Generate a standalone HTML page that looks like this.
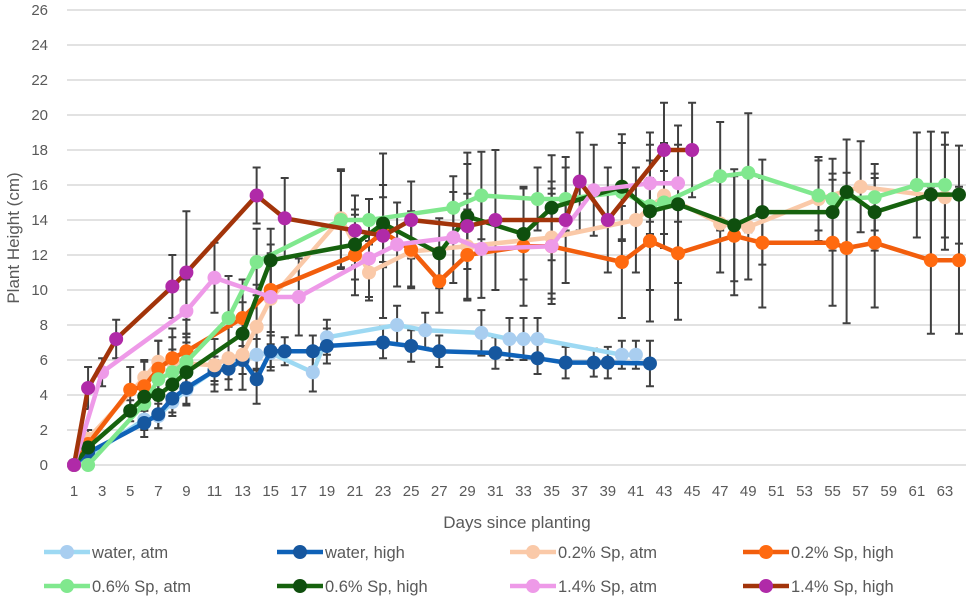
<!DOCTYPE html>
<html><head><meta charset="utf-8">
<style>
html,body{margin:0;padding:0;background:#fff;}
svg{display:block;font-family:"Liberation Sans",sans-serif;}
</style></head>
<body>
<svg id="chart" width="969" height="599" viewBox="0 0 969 599" xmlns="http://www.w3.org/2000/svg">
<g id="grid"></g>
<g id="yticks"></g>
<g id="xticks"></g>
<g id="errs"></g>
<g id="series"></g>
<text x="0" y="0" transform="translate(19,238) rotate(-90)" text-anchor="middle" font-size="17" fill="#595959">Plant Height (cm)</text>
<text x="517" y="528" text-anchor="middle" font-size="17" fill="#595959">Days since planting</text>
<g id="legend"></g>
</svg>
<script>
const yTicks=[0,2,4,6,8,10,12,14,16,18,20,22,24,26];
const xTickLabels=[1,3,5,7,9,11,13,15,17,19,21,23,25,27,29,31,33,35,37,39,41,43,45,47,49,51,53,55,57,59,61,63];
const seriesNames=["water, atm","water, high","0.2% Sp, atm","0.2% Sp, high","0.6% Sp, atm","0.6% Sp, high","1.4% Sp, atm","1.4% Sp, high"];
const waterAtmDays=[1,2,6,7,8,9,11,13,14,15,18,19,24,26,30,32,33,34,40,41];
const waterAtmVals=[0,0.5,2.6,2.8,3.6,4.3,5.4,6.0,6.3,6.4,5.3,7.3,8.0,7.7,7.55,7.2,7.2,7.2,6.3,6.3];
const waterAtmErr=[0,0.3,0.6,0.7,0.8,0.9,0.8,0.8,0.9,1.0,1.1,1.0,1.1,1.0,1.3,1.2,1.2,1.2,0.8,0.8];
const waterHighDays=[1,2,6,7,8,9,11,12,13,14,15,16,18,19,23,25,27,31,34,36,38,39,42];
const waterHighVals=[0,0.7,2.4,2.9,3.8,4.4,5.4,5.5,6.0,4.9,6.5,6.5,6.5,6.8,7.0,6.8,6.5,6.4,6.1,5.85,5.85,5.85,5.8];
const waterHighErr=[0,0.3,0.8,0.8,0.8,0.9,0.6,0.6,0.8,1.4,0.9,0.8,0.9,1.0,0.9,0.9,0.9,0.9,0.9,0.9,0.8,0.9,1.3];
const sp02AtmDays=[1,2,6,7,8,9,11,12,13,14,15,20,22,25,29,35,41,43,47,49,54,57,63];
const sp02AtmVals=[0,1.5,5.0,5.9,5.9,5.8,5.7,6.1,6.3,7.9,9.5,14.1,11.0,12.2,12.5,13.0,14.0,15.4,13.8,13.6,15.2,15.9,15.3];
const sp02AtmErr=[0,0.5,1.0,1.2,1.4,1.5,1.5,1.8,2.0,2.4,2.6,2.8,1.6,2.0,3.0,3.2,3.0,3.0,2.8,3.0,2.4,2.6,3.0];
const sp02HighDays=[1,2,5,6,7,8,9,13,15,21,23,25,27,29,33,35,40,42,44,48,50,55,56,58,62,64];
const sp02HighVals=[0,1.2,4.3,4.5,5.5,6.1,6.5,8.4,10.0,12.0,13.3,12.3,10.5,12.0,12.5,12.5,11.6,12.8,12.1,13.1,12.7,12.7,12.4,12.7,11.7,11.7];
const sp02HighErr=[0,0.5,1.3,1.4,1.6,1.7,1.8,2.2,2.6,2.3,2.0,2.2,1.8,2.6,3.4,3.3,3.2,4.6,3.8,3.4,3.7,3.6,4.3,3.7,4.2,4.2];
const sp06AtmDays=[2,6,7,8,9,12,14,20,22,28,30,34,36,40,42,43,47,49,54,55,58,61,63];
const sp06AtmVals=[0,3.5,4.9,5.3,5.9,8.4,11.6,14.0,14.0,14.7,15.4,15.2,15.2,15.6,14.8,15.0,16.5,16.7,15.4,15.2,15.3,16.0,16.0];
const sp06AtmErr=[0,0.8,1.1,1.3,1.6,2.4,1.9,2.8,1.2,1.8,2.5,1.8,1.8,2.8,1.6,1.8,3.1,3.4,2.0,2.3,1.9,3.0,3.0];
const sp06HighDays=[1,2,5,6,7,8,9,13,15,21,23,27,29,33,35,40,42,44,48,50,55,56,58,62,64];
const sp06HighVals=[0,1.0,3.1,3.9,4.0,4.6,5.3,7.5,11.7,12.6,13.8,12.1,14.2,13.2,14.7,15.9,14.5,14.9,13.7,14.45,14.45,15.6,14.45,15.45,15.45];
const sp06HighErr=[0,0.4,0.6,0.8,0.9,1.1,1.2,1.8,1.8,2.0,2.2,2.0,3.0,2.6,3.0,3.0,4.5,4.5,3.2,3.0,2.2,3.0,2.2,3.6,2.8];
const sp14AtmDays=[1,3,9,11,15,17,22,24,28,30,35,38,42,44];
const sp14AtmVals=[0,5.3,8.8,10.7,9.6,9.6,11.8,12.6,13.0,12.35,12.5,15.7,16.1,16.1];
const sp14AtmErr=[0,0.8,1.8,2.0,2.0,2.2,2.2,2.4,2.6,2.8,3.0,2.6,2.2,2.2];
const sp14HighDays=[1,2,4,8,9,14,16,21,23,25,29,31,36,37,39,43,45];
const sp14HighVals=[0,4.4,7.2,10.2,11.0,15.4,14.1,13.4,13.1,14.0,13.65,14.0,14.0,16.2,14.0,18.0,18.0];
const sp14HighErr=[0,1.2,1.1,1.8,3.5,1.6,2.3,2.0,4.7,2.2,4.2,4.0,3.6,2.8,3.0,2.7,2.7];
const seriesDays=[waterAtmDays,waterHighDays,sp02AtmDays,sp02HighDays,sp06AtmDays,sp06HighDays,sp14AtmDays,sp14HighDays];
const seriesVals=[waterAtmVals,waterHighVals,sp02AtmVals,sp02HighVals,sp06AtmVals,sp06HighVals,sp14AtmVals,sp14HighVals];
const seriesErr=[waterAtmErr,waterHighErr,sp02AtmErr,sp02HighErr,sp06AtmErr,sp06HighErr,sp14AtmErr,sp14HighErr];

const lineColors=["#9DD9F3","#0F62B8","#FAC9A8","#F25E0D","#80E88E","#16620E","#EE9AE8","#A2340A"];
const markerColors=["#A9CEF0","#16579F","#FAC9A8","#FF6A10","#80E88E","#0F4F0E","#EE9AE8","#B02AA8"];
const NS="http://www.w3.org/2000/svg";
const X0=67,X1=966,NCAT=64,Y0=465,YTOP=10,YMAX=26;
const cw=(X1-X0)/NCAT;
function xs(d){return X0+(d-0.5)*cw;}
function ys(v){return Y0-(v/YMAX)*(Y0-YTOP);}
function mk(tag,attrs,parent){const e=document.createElementNS(NS,tag);for(const k in attrs)e.setAttribute(k,attrs[k]);parent.appendChild(e);return e;}
const grid=document.getElementById('grid'),yt=document.getElementById('yticks'),xt=document.getElementById('xticks');
yTicks.forEach(v=>{
 const l=mk('line',{x1:X0,x2:X1,y1:ys(v),y2:ys(v),stroke:'#d9d9d9','stroke-width':1.5},grid);
 
 
 const t=mk('text',{x:48,y:ys(v)+5,'text-anchor':'end','font-size':15,fill:'#595959'},yt);
 
 
 t.textContent=v;
});
xTickLabels.forEach(d=>{
 const t=mk('text',{x:xs(d),y:496,'text-anchor':'middle','font-size':15,fill:'#595959'},xt);
 
 
 t.textContent=d;
});
const eg=document.getElementById('errs'),sg=document.getElementById('series');
seriesDays.forEach((days,i)=>{
 const vals=seriesVals[i],err=seriesErr[i];
 days.forEach((d,j)=>{
  if(!err[j])return;
  const x=xs(d),a=ys(vals[j]+err[j]),b=ys(Math.max(0,vals[j]-err[j]));
  const g=mk('g',{stroke:'#404040','stroke-width':2},eg);
  
  
  mk('line',{x1:x,x2:x,y1:a,y2:b},g);
  mk('line',{x1:x-4,x2:x+4,y1:a,y2:a},g);
  mk('line',{x1:x-4,x2:x+4,y1:b,y2:b},g);
 });
});
seriesDays.forEach((days,i)=>{
 const vals=seriesVals[i];
 const g=mk('g',{},sg);
 
 
 const pts=days.map((d,j)=>xs(d).toFixed(1)+','+ys(vals[j]).toFixed(1)).join(' ');
 const pl=mk('polyline',{points:pts,fill:'none',stroke:lineColors[i],'stroke-width':4.5,'stroke-linejoin':'round'},g);
 
 
 days.forEach((d,j)=>{
  const c=mk('circle',{cx:xs(d),cy:ys(vals[j]),r:7,fill:markerColors[i]},g);
  
  
 });
});
const lg=document.getElementById('legend');
const colX=[44,277,510,743],rowY=[552,586];
seriesNames.forEach((n,i)=>{
 const x=colX[i%4],y=rowY[Math.floor(i/4)];
 const g=mk('g',{},lg);
 
 
 mk('line',{x1:x,x2:x+46,y1:y,y2:y,stroke:lineColors[i],'stroke-width':4.5},g);
 mk('circle',{cx:x+23,cy:y,r:7,fill:markerColors[i]},g);
 const t=mk('text',{x:x+48,y:y+6,'font-size':16.5,fill:'#595959'},g);
 t.textContent=n;
});
</script>
</body></html>
